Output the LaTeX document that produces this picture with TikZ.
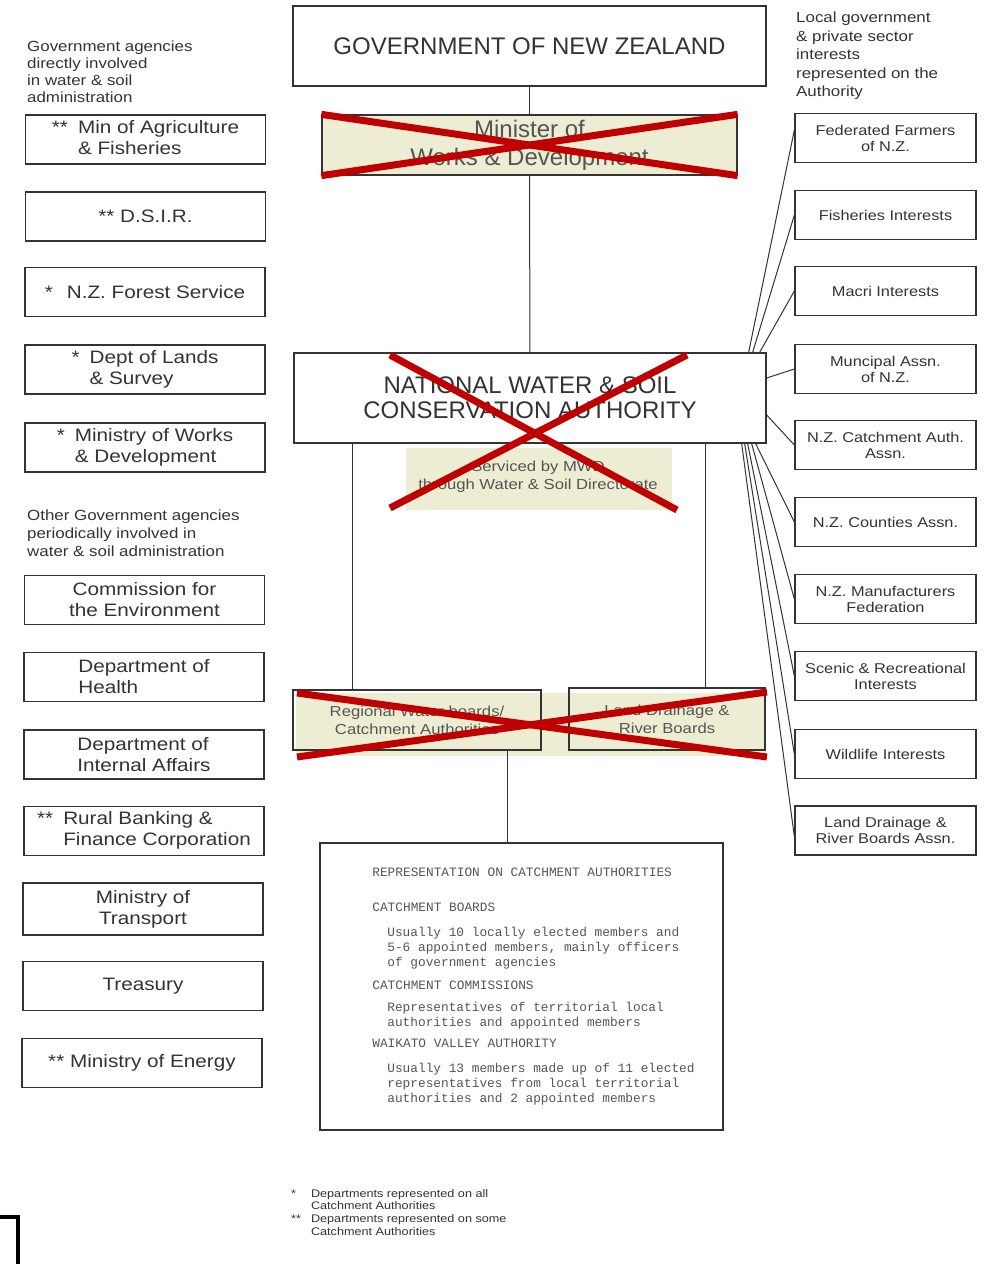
\documentclass[tikz,border=0pt]{standalone}
\usepackage{fontspec}
\setmainfont{Liberation Sans}[FakeStretch=1.15]
\newfontfamily\plainsans{Liberation Sans}
\setmonofont{Liberation Mono}
\usetikzlibrary{positioning}

\definecolor{khaki}{HTML}{ECEDD3}
\definecolor{crossred}{HTML}{C00000}
\definecolor{ink}{HTML}{333333}
\definecolor{fadeink}{HTML}{555555}

\tikzset{
  chartbox/.style={draw=ink, line width=1.3pt, text=ink, align=center, inner sep=2pt},
  agency/.style={chartbox, minimum width=240pt, minimum height=49pt, font=\fontsize{18}{21}\selectfont},
  interest/.style={chartbox, minimum width=181pt, minimum height=49pt, font=\fontsize{14.2}{16}\selectfont},
  bigbox/.style={chartbox, font=\plainsans\fontsize{24}{25}\selectfont},
  crossed/.style={fill=khaki, text=fadeink},
  heading/.style={anchor=north west, inner sep=0pt, align=left, text=ink, font=\fontsize{14.7}{17}\selectfont},
  link/.style={ink, line width=1pt},
  redx/.style={crossred, line width=7pt},
}

\newcommand{\starline}[3]{\begin{tabular}{@{}l@{\hspace{10pt}}l@{}}#1 & #2\\ & #3\end{tabular}}

\begin{document}
\begin{tikzpicture}[x=1pt, y=-1pt]

    \useasboundingbox (0,0) rectangle (987,1264);

    % Headings
    \node[heading] (directhead) at (27,41) {Government agencies\\directly involved\\in water \& soil\\administration};
    \node[heading, font=\fontsize{14.7}{18}\selectfont] (otherhead) at (27,510) {Other Government agencies\\periodically involved in\\water \& soil administration};
    \node[heading, font=\fontsize{14.7}{18.5}\selectfont] (localhead) at (796,12) {Local government\\\& private sector\\interests\\represented on the\\Authority};

    % Government agencies
    \node[agency] (agri) at (145.5,139.5) {\starline{**}{Min of Agriculture}{\& Fisheries}};
    \node[agency] (dsir) at (145.5,216.5) {** D.S.I.R.};
    \node[agency] (forest) at (145,292) {*\hspace{14pt}N.Z. Forest Service};
    \node[agency] (lands) at (145,369.5) {\starline{*}{Dept of Lands}{\& Survey}};
    \node[agency] (works) at (145,447.5) {\starline{*}{Ministry of Works}{\& Development}};
    \node[agency] (comm) at (144.5,600) {Commission for\\the Environment};
    \node[agency, align=left] (health) at (144,677) {Department of\\Health};
    \node[agency, align=left] (internal) at (144,754.5) {Department of\\Internal Affairs};
    \node[agency] (rural) at (144,831) {\starline{**}{Rural Banking \&}{Finance Corporation}};
    \node[agency, minimum height=52pt] (transport) at (143,909) {Ministry of\\Transport};
    \node[agency] (treasury) at (143,986) {Treasury};
    \node[agency] (energy) at (142,1063) {** Ministry of Energy};

    % Represented interests
    \node[interest] (farmers) at (885.5,138) {Federated Farmers\\of N.Z.};
    \node[interest] (fisheries) at (885.5,215) {Fisheries Interests};
    \node[interest] (maori) at (885.5,291) {Macri Interests};
    \node[interest] (municipal) at (885.5,369) {Muncipal Assn.\\of N.Z.};
    \node[interest] (catchauth) at (885.5,445) {N.Z. Catchment Auth.\\Assn.};
    \node[interest] (counties) at (885.5,522) {N.Z. Counties Assn.};
    \node[interest] (manuf) at (885.5,599) {N.Z. Manufacturers\\Federation};
    \node[interest] (scenic) at (885.5,676) {Scenic \& Recreational\\Interests};
    \node[interest] (wildlife) at (885.5,754) {Wildlife Interests};
    \node[interest] (riverassn) at (885.5,830.5) {Land Drainage \&\\River Boards Assn.};

    % Central chain
    \node[bigbox, minimum width=473pt, minimum height=80pt] (gov) at (529.5,46) {GOVERNMENT OF NEW ZEALAND};
    \node[bigbox, crossed, minimum width=415pt, minimum height=60pt, font=\plainsans\fontsize{24}{28}\selectfont] (minister) at (529.5,145) {Minister of\\Works \& Development};
    \node[bigbox, minimum width=472pt, minimum height=90pt] (nwsca) at (530,398) {NATIONAL WATER \& SOIL\\CONSERVATION AUTHORITY};

    \fill[khaki] (406,448) rectangle (672,510);
    \node[text=fadeink, align=center, font=\fontsize{14.5}{18}\selectfont] (serviced) at (538,477) {Serviced by MWD\\through Water \& Soil Directorate};

    \fill[khaki] (296,693) rectangle (766,756);
    \node[chartbox, text=fadeink, minimum width=248pt, minimum height=60pt, font=\fontsize{14.5}{18}\selectfont] (regional) at (417,720) {Regional Water boards/\\Catchment Authorities};
    \node[chartbox, text=fadeink, minimum width=196pt, minimum height=62pt, font=\fontsize{14.5}{18}\selectfont] (boards) at (667,719) {Land Drainage \&\\River Boards};

    % Representation
    \node[chartbox, minimum width=403pt, minimum height=287pt] (rep) at (521.5,986.5) {};
    \node[align=left, text=fadeink, font=\ttfamily\fontsize{12.8}{15}\selectfont, xshift=12pt] (reptext) at (rep.center) {%
      REPRESENTATION ON CATCHMENT AUTHORITIES\\[20pt]
      CATCHMENT BOARDS\\[10pt]
      \hspace*{15pt}Usually 10 locally elected members and\\
      \hspace*{15pt}5-6 appointed members, mainly officers\\
      \hspace*{15pt}of government agencies\\[8pt]
      CATCHMENT COMMISSIONS\\[7pt]
      \hspace*{15pt}Representatives of territorial local\\
      \hspace*{15pt}authorities and appointed members\\[6pt]
      WAIKATO VALLEY AUTHORITY\\[10pt]
      \hspace*{15pt}Usually 13 members made up of 11 elected\\
      \hspace*{15pt}representatives from local territorial\\
      \hspace*{15pt}authorities and 2 appointed members};

    % Footnotes
    \node[anchor=north west, inner sep=0pt, text=ink, font=\fontsize{11}{12.7}\selectfont] (footnotes) at (291,1188) {%
      \begin{tabular}{@{}l@{\hspace{10pt}}l@{}}
        {*} & Departments represented on all\\
            & Catchment Authorities\\
        {**} & Departments represented on some\\
             & Catchment Authorities
      \end{tabular}};

    % Links
    \draw[link] (gov) -- (minister);
    \draw[link] (minister) -- (nwsca);
    \draw[link] (nwsca.south -| 352,0) -- (regional.north -| 352,0);
    \draw[link] (nwsca.south -| 705,0) -- (boards.north -| 705,0);
    \draw[link] (regional.south -| 507,0) -- (rep.north -| 507,0);

    \draw[link] ([yshift=8pt]farmers.west) -- ([xshift=-18pt]nwsca.north east);
    \draw[link] (fisheries.west) -- ([xshift=-14pt]nwsca.north east);
    \draw[link] (maori.west) -- ([xshift=-7pt]nwsca.north east);
    \draw[link] (municipal.west) -- ([yshift=20pt]nwsca.east);
    \draw[link] (catchauth.west) -- ([yshift=-17pt]nwsca.east);
    \draw[link] (counties.west) -- ([xshift=-11pt]nwsca.south east);
    \draw[link] (manuf.west) -- ([xshift=-15pt]nwsca.south east);
    \draw[link] (scenic.west) -- ([xshift=-19pt]nwsca.south east);
    \draw[link] (wildlife.west) -- ([xshift=-22pt]nwsca.south east);
    \draw[link] ([yshift=-6pt]riverassn.west) -- ([xshift=-25pt]nwsca.south east);

    % Crossings out
    \draw[redx] (minister.north west) -- (minister.south east);
    \draw[redx] (minister.south west) -- (minister.north east);
    \draw[redx] (390,355) -- (677,510);
    \draw[redx] (687,355) -- (390,508);
    \draw[redx] (297,693) -- (767,757);
    \draw[redx] (297,757) -- (767,692);

    % Corner mark
    \draw[line width=4.5pt] (0,1217) -- (18,1217) -- (18,1264);

\end{tikzpicture}
\end{document}
